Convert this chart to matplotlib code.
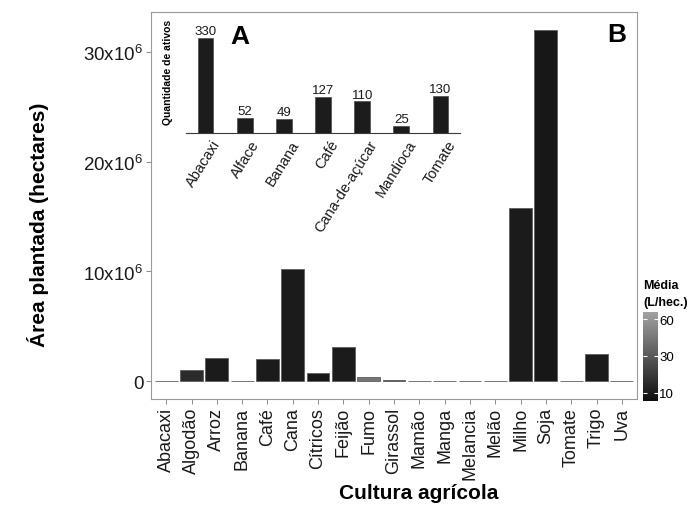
#!/usr/bin/env python3
"""Planted area per crop, with the count of active ingredients as an inset."""

import matplotlib
matplotlib.use("Agg")
import matplotlib.pyplot as plt
from matplotlib import colors as mcolors
from matplotlib.cm import ScalarMappable
import numpy as np

plt.rcParams["font.family"] = ["Liberation Sans", "DejaVu Sans"]
plt.rcParams["mathtext.fontset"] = "custom"
plt.rcParams["mathtext.rm"] = "Liberation Sans"
plt.rcParams["mathtext.it"] = "Liberation Sans"

# panel B: planted area (millions of hectares) and mean dose (L/ha)
culturas = ["Abacaxi", "Algodão", "Arroz", "Banana", "Café", "Cana", "Cítricos",
            "Feijão", "Fumo", "Girassol", "Mamão", "Manga", "Melancia", "Melão",
            "Milho", "Soja", "Tomate", "Trigo", "Uva"]
area_mi = [0.06, 1.0, 2.15, 0.07, 2.0, 10.2, 0.79, 3.1, 0.43, 0.15, 0.04,
           0.07, 0.03, 0.03, 15.8, 32.0, 0.06, 2.5, 0.08]
media = [9, 14, 10, 9, 10, 10, 9, 10, 42, 10, 9, 9, 8, 8, 10, 9, 9, 10, 8]

# panel A: number of active ingredients
ativos_culturas = ["Abacaxi", "Alface", "Banana", "Café", "Cana-de-açúcar",
                   "Mandioca", "Tomate"]
ativos = [330, 52, 49, 127, 110, 25, 130]

y_ticks = [0, 10e6, 20e6, 30e6]
y_ticklabels = ["0", "10x10$^{6}$", "20x10$^{6}$", "30x10$^{6}$"]

W, H = 687, 510
fig = plt.figure(figsize=(W / 100, H / 100), dpi=100)

cmap = mcolors.LinearSegmentedColormap.from_list("cinza", ["#0e0e0e", "#a2a2a2"])
norm = mcolors.FuncNorm((np.sqrt, np.square), vmin=7, vmax=67)

# main panel
ax = fig.add_axes([151 / W, 1 - 400 / H, (637 - 151) / W, (400 - 13) / H])
x = np.arange(len(culturas))
area = np.array(area_mi) * 1e6
ax.bar(x, area, width=0.9, color=cmap(norm(np.array(media))),
       edgecolor="#5e5e5e", linewidth=0.6)
ax.set_xlim(-0.6, len(culturas) - 0.4)
ax.set_ylim(-0.05 * 32e6, 32e6 * 1.05)
ax.set_xticks(x)
ax.set_xticklabels(culturas, rotation=90, fontsize=13, color="#1a1a1a")
ax.set_yticks(y_ticks)
ax.set_yticklabels(y_ticklabels, fontsize=13.5, color="#1a1a1a")
ax.tick_params(length=3.5, width=0.7, color="#8a8a8a", pad=2)
for s in ax.spines.values():
    s.set_color("#9a9a9a")
    s.set_linewidth(0.8)

fig.text(38 / W, 1 - 225 / H, "Área plantada (hectares)", rotation=90,
         ha="center", va="center", fontsize=15, fontweight="bold")
fig.text(419 / W, 1 - 494 / H, "Cultura agrícola", ha="center", va="center",
         fontsize=15, fontweight="bold")
fig.text(617 / W, 1 - 35 / H, "B", ha="center", va="center", fontsize=19,
         fontweight="bold")

# inset panel
axi = fig.add_axes([186 / W, 1 - 134 / H, (460 - 186) / W, (134 - 22) / H])
axi.patch.set_alpha(0)
xi = np.arange(len(ativos))
axi.bar(xi, ativos, width=0.4, color="#1c1c1c", edgecolor="#4a4a4a", linewidth=0.5)
for xv, v in zip(xi, ativos):
    axi.text(xv, v + 3, str(v), ha="center", va="bottom", fontsize=9.5, color="#1a1a1a")
axi.set_xlim(-0.5, len(ativos) - 0.5)
axi.set_ylim(0, 390)
axi.set_yticks([])
axi.set_xticks(xi + 0.15)
axi.set_xticklabels(ativos_culturas, rotation=58, ha="right",
                    rotation_mode="anchor", fontsize=10.5, color="#1a1a1a")
axi.tick_params(axis="x", length=0, pad=3)
for side in ["top", "right", "left"]:
    axi.spines[side].set_visible(False)
axi.spines["bottom"].set_color("#3a3a3a")
axi.spines["bottom"].set_linewidth(0.8)

fig.text(168 / W, 1 - 72 / H, "Quantidade de ativos", rotation=90,
         ha="center", va="center", fontsize=7.5, fontweight="bold")
fig.text(240 / W, 1 - 37 / H, "A", ha="center", va="center", fontsize=19,
         fontweight="bold")

# colour bar for the mean dose
cax = fig.add_axes([643 / W, 1 - 402 / H, 15 / W, (402 - 313) / H])
cb = fig.colorbar(ScalarMappable(norm=norm, cmap=cmap), cax=cax, ticks=[10, 30, 60])
cb.outline.set_visible(False)
cb.ax.tick_params(direction="in", length=3, width=0.8, color="white",
                  labelsize=9.5, pad=1, left=True, right=True)
cb.ax.set_yticklabels(["10", "30", "60"])
fig.text(643 / W, 1 - 309 / H, "Média\n(L/hec.)", ha="left", va="bottom",
         fontsize=9, fontweight="bold", linespacing=1.5)

fig.savefig("out.png", dpi=100)
plt.close(fig)
